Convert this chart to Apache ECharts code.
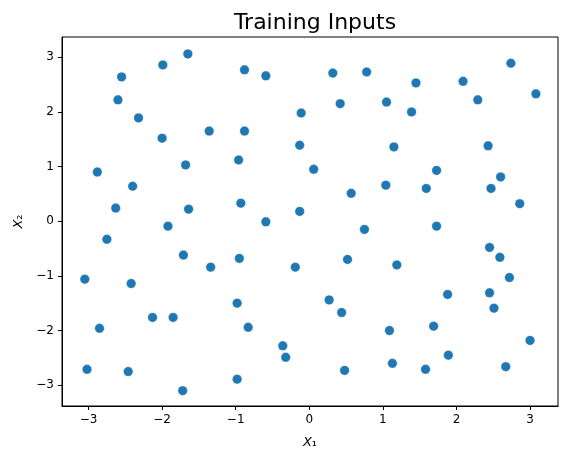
<!DOCTYPE html>
<html><head><meta charset="utf-8">
<script src="https://cdn.jsdelivr.net/npm/echarts@6/dist/echarts.min.js"></script>
<style>html,body{margin:0;padding:0;background:#fff}#c{width:568px;height:462px}</style>
</head><body><div id="c"></div>
<script>
const x1 = [-2.55,-1.99,-1.65,-2.60,-2.32,-2.00,-2.88,-1.68,-2.40,-2.63,-1.64,-1.92,
  -0.88,-0.59,0.32,0.78,0.42,-0.11,-1.36,-0.88,-0.13,-0.96,0.06,0.57,-0.93,-0.13,-0.59,0.75,
  2.74,1.45,2.09,3.08,1.05,1.39,2.29,1.15,2.43,1.73,1.04,1.59,2.47,2.60,2.86,1.73,
  -2.75,-1.71,-3.05,-2.42,-2.13,-1.85,-2.85,-3.02,-2.46,-1.72,
  -1.34,-0.95,-0.19,0.52,-0.98,0.27,0.44,-0.83,-0.36,-0.32,0.48,-0.98,
  2.45,2.59,1.19,2.72,1.88,2.45,2.51,1.09,1.69,3.00,1.89,1.13,1.58,2.67];
const x2 = [2.64,2.86,3.06,2.22,1.89,1.52,0.90,1.03,0.64,0.24,0.22,-0.09,
  2.77,2.66,2.71,2.73,2.15,1.98,1.65,1.65,1.39,1.12,0.95,0.51,0.33,0.18,-0.01,-0.15,
  2.89,2.53,2.56,2.33,2.18,2.00,2.22,1.36,1.38,0.93,0.66,0.60,0.60,0.81,0.32,-0.09,
  -0.33,-0.62,-1.06,-1.14,-1.76,-1.76,-1.96,-2.71,-2.75,-3.10,
  -0.84,-0.68,-0.84,-0.70,-1.50,-1.44,-1.67,-1.94,-2.28,-2.49,-2.73,-2.89,
  -0.48,-0.66,-0.80,-1.03,-1.34,-1.31,-1.59,-2.00,-1.92,-2.18,-2.45,-2.60,-2.71,-2.66];
const tickValues = [-3,-2,-1,0,1,2,3];
const titleText = 'Training Inputs';

const pts = x1.map((v,i)=>[v,x2[i]]);
const fam = 'DejaVu Sans';
const fmt = v => String(v).replace('-', '\u2212');
const chart = echarts.init(document.getElementById('c'), null, {renderer:'canvas'});
function axis(min, max, name, gap, rot) {
  return {
    type:'value', min:min, max:max,
    splitLine:{show:false},
    axisLine:{show:true, onZero:false, lineStyle:{color:'#000', width:1}},
    axisTick:{show:true, length:4, lineStyle:{color:'#000'}, customValues:tickValues},
    axisLabel:{color:'#000', fontSize:12, fontFamily:fam, formatter:fmt, margin:8, customValues:tickValues},
    name:name, nameLocation:'middle', nameGap:gap, nameRotate:rot,
    nameTextStyle:{color:'#000', fontSize:13, fontFamily:fam, rich:{i:{fontStyle:'italic', fontSize:13, fontFamily:fam}}}
  };
}
chart.setOption({
  animation:false,
  backgroundColor:'#fff',
  title:{text:titleText, left:310, textAlign:'center', top:7,
    textStyle:{fontFamily:fam, fontSize:22, fontWeight:'normal', color:'#000'}},
  grid:{left:62, right:10, top:37, bottom:56, show:true, borderColor:'#000', borderWidth:1, backgroundColor:'transparent'},
  xAxis:axis(-3.36, 3.38, '{i|X}\u2081', 30, 0),
  yAxis:axis(-3.38, 3.37, '{i|X}\u2082', 37, 90),
  series:[{type:'scatter', data:pts, symbolSize:9.5,
    itemStyle:{color:'#1f77b4', borderColor:'rgba(255,255,255,0.6)', borderWidth:0.5, opacity:1}}]
});
</script></body></html>
